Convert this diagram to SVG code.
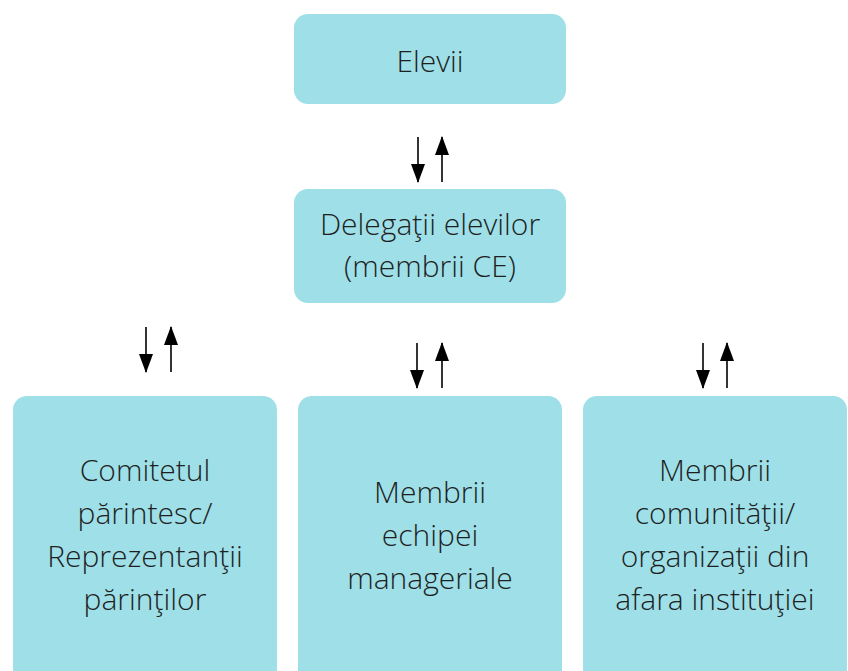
<svg xmlns="http://www.w3.org/2000/svg" width="848" height="671" viewBox="0 0 848 671">
<defs>
<style>
.box{fill:#9edfe8;}
.t{font-family:"Open Sans","Noto Sans","Liberation Sans",sans-serif;font-weight:300;font-size:30px;fill:#1f1f1f;text-anchor:middle;}
.c{stroke:#000;stroke-width:1.6;fill:none;}
</style>
<marker id="ah" viewBox="0 0 19 14" refX="18" refY="7" markerWidth="19" markerHeight="14" markerUnits="userSpaceOnUse" orient="auto">
<path d="M0,0 L19,7 L0,14 Z" fill="#000"/>
</marker>
</defs>
<rect width="848" height="671" fill="#fff"/>
<g id="n1">
<rect class="box" x="294" y="14" width="272" height="90" rx="14"/>
<text class="t" x="430" y="72">Elevii</text>
</g>
<g id="n2">
<rect class="box" x="294" y="189" width="272" height="114" rx="14"/>
<text class="t" x="430" y="235">Delegaţii elevilor</text>
<text class="t" x="430" y="277">(membrii CE)</text>
</g>
<g id="n3">
<rect class="box" x="13" y="396" width="264" height="290" rx="14"/>
<text class="t" x="145" y="481">Comitetul</text>
<text class="t" x="145" y="524">părintesc/</text>
<text class="t" x="145" y="567">Reprezentanţii</text>
<text class="t" x="145" y="610">părinţilor</text>
</g>
<g id="n4">
<rect class="box" x="298" y="396" width="264" height="290" rx="14"/>
<text class="t" x="430" y="503">Membrii</text>
<text class="t" x="430" y="546">echipei</text>
<text class="t" x="430" y="589">manageriale</text>
</g>
<g id="n5">
<rect class="box" x="583" y="396" width="264" height="290" rx="14"/>
<text class="t" x="715" y="481">Membrii</text>
<text class="t" x="715" y="524">comunităţii/</text>
<text class="t" x="715" y="567">organizaţii din</text>
<text class="t" x="715" y="610">afara instituţiei</text>
</g>
<g id="connectors">
<line class="c" x1="418" y1="137" x2="418" y2="182" marker-end="url(#ah)"/>
<line class="c" x1="442" y1="182" x2="442" y2="137" marker-end="url(#ah)"/>
<line class="c" x1="146" y1="327" x2="146" y2="372" marker-end="url(#ah)"/>
<line class="c" x1="171" y1="372" x2="171" y2="327" marker-end="url(#ah)"/>
<line class="c" x1="417" y1="343" x2="417" y2="388" marker-end="url(#ah)"/>
<line class="c" x1="442" y1="388" x2="442" y2="343" marker-end="url(#ah)"/>
<line class="c" x1="703" y1="343" x2="703" y2="388" marker-end="url(#ah)"/>
<line class="c" x1="727" y1="388" x2="727" y2="343" marker-end="url(#ah)"/>
</g>
</svg>
